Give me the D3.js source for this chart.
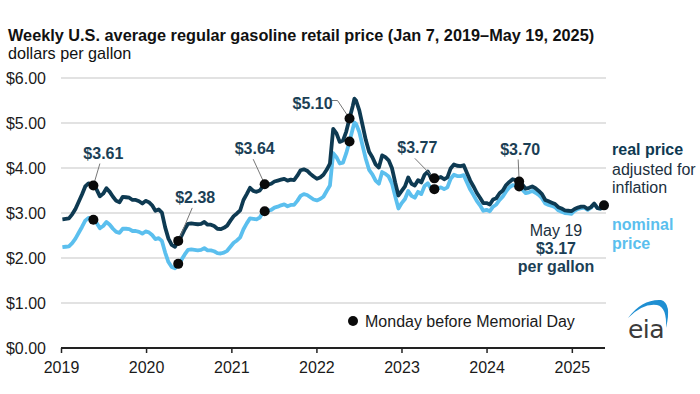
<!DOCTYPE html>
<html><head><meta charset="utf-8">
<script src="https://cdn.jsdelivr.net/npm/d3@7"></script>
<style>body{margin:0;background:#fff}svg{display:block;font-family:"Liberation Sans",Arial,sans-serif}</style>
</head><body><svg id="c" width="700" height="394"></svg>
<script>
const dates = ["2019-01-07","2019-01-21","2019-02-04","2019-02-18","2019-03-04","2019-03-18","2019-04-01","2019-04-15","2019-04-29","2019-05-13","2019-05-20","2019-06-03","2019-06-17","2019-07-01","2019-07-15","2019-07-29","2019-08-12","2019-08-26","2019-09-09","2019-09-23","2019-10-07","2019-10-21","2019-11-04","2019-11-18","2019-12-02","2019-12-16","2019-12-30",
"2020-01-13","2020-01-27","2020-02-10","2020-02-24","2020-03-09","2020-03-23","2020-04-06","2020-04-20","2020-05-04","2020-05-18","2020-06-01","2020-06-15","2020-06-29","2020-07-13","2020-07-27","2020-08-10","2020-08-24","2020-09-07","2020-09-21","2020-10-05","2020-10-19","2020-11-02","2020-11-16","2020-11-30","2020-12-14","2020-12-28",
"2021-01-11","2021-01-25","2021-02-08","2021-02-22","2021-03-08","2021-03-22","2021-04-05","2021-04-19","2021-05-03","2021-05-10","2021-05-24","2021-06-07","2021-06-21","2021-07-05","2021-07-19","2021-08-02","2021-08-16","2021-08-30","2021-09-13","2021-09-27","2021-10-11","2021-10-25","2021-11-08","2021-11-22","2021-12-06","2021-12-20",
"2022-01-03","2022-01-17","2022-01-31","2022-02-14","2022-02-28","2022-03-14","2022-03-28","2022-04-11","2022-04-25","2022-05-09","2022-05-23","2022-06-06","2022-06-13","2022-06-20","2022-07-04","2022-07-18","2022-08-01","2022-08-15","2022-08-29","2022-09-12","2022-09-26","2022-10-10","2022-10-24","2022-11-07","2022-11-21","2022-12-05","2022-12-19",
"2023-01-02","2023-01-16","2023-01-30","2023-02-13","2023-02-27","2023-03-13","2023-03-27","2023-04-10","2023-04-24","2023-05-08","2023-05-22","2023-06-05","2023-06-19","2023-07-03","2023-07-17","2023-07-31","2023-08-14","2023-08-28","2023-09-11","2023-09-25","2023-10-09","2023-10-23","2023-11-06","2023-11-20","2023-12-04","2023-12-18",
"2024-01-01","2024-01-15","2024-01-29","2024-02-12","2024-02-26","2024-03-11","2024-03-25","2024-04-08","2024-04-22","2024-05-06","2024-05-20","2024-06-03","2024-06-17","2024-07-01","2024-07-15","2024-07-29","2024-08-12","2024-08-26","2024-09-09","2024-09-23","2024-10-07","2024-10-21","2024-11-04","2024-11-18","2024-12-02","2024-12-16","2024-12-30",
"2025-01-13","2025-01-27","2025-02-10","2025-02-24","2025-03-10","2025-03-24","2025-04-07","2025-04-21","2025-05-05","2025-05-19"];
const nominal = [2.24,2.25,2.26,2.33,2.43,2.56,2.69,2.83,2.89,2.87,2.85,2.78,2.66,2.71,2.80,2.74,2.65,2.58,2.56,2.65,2.65,2.64,2.60,2.60,2.58,2.54,2.59,
2.57,2.51,2.42,2.44,2.38,2.12,1.91,1.80,1.77,1.87,1.96,2.08,2.18,2.19,2.18,2.17,2.18,2.22,2.17,2.17,2.15,2.11,2.10,2.12,2.16,2.25,
2.34,2.39,2.46,2.64,2.77,2.88,2.87,2.86,2.90,2.96,3.04,3.05,3.07,3.12,3.14,3.17,3.19,3.15,3.18,3.18,3.27,3.38,3.42,3.40,3.35,3.30,
3.28,3.31,3.36,3.49,3.61,4.33,4.24,4.10,4.12,4.33,4.59,4.87,5.01,4.98,4.80,4.50,4.20,3.96,3.86,3.72,3.65,3.91,3.87,3.81,3.66,3.37,3.10,
3.22,3.31,3.49,3.38,3.34,3.47,3.42,3.60,3.66,3.53,3.53,3.54,3.57,3.53,3.57,3.76,3.85,3.82,3.82,3.84,3.68,3.52,3.40,3.27,3.17,3.05,
3.07,3.04,3.14,3.19,3.29,3.37,3.48,3.57,3.62,3.61,3.59,3.52,3.44,3.46,3.49,3.45,3.40,3.33,3.21,3.18,3.16,3.13,3.06,3.03,3.00,2.99,2.98,
3.05,3.09,3.11,3.12,3.07,3.12,3.20,3.11,3.10,3.17];
const real = [2.86,2.87,2.88,2.97,3.09,3.25,3.41,3.59,3.66,3.64,3.61,3.52,3.37,3.43,3.55,3.47,3.36,3.27,3.24,3.36,3.35,3.34,3.29,3.29,3.26,3.21,3.27,
3.24,3.17,3.05,3.08,3.01,2.68,2.43,2.29,2.25,2.38,2.49,2.64,2.76,2.77,2.76,2.75,2.76,2.80,2.74,2.74,2.71,2.65,2.64,2.67,2.72,2.83,
2.93,2.99,3.06,3.29,3.42,3.56,3.49,3.47,3.50,3.55,3.64,3.63,3.65,3.70,3.72,3.74,3.76,3.72,3.74,3.73,3.83,3.95,3.97,3.94,3.87,3.81,
3.76,3.79,3.85,3.96,4.10,4.87,4.77,4.58,4.61,4.81,5.10,5.38,5.54,5.50,5.28,4.95,4.62,4.36,4.24,4.08,4.01,4.28,4.24,4.17,4.00,3.68,3.39,
3.49,3.59,3.79,3.65,3.61,3.73,3.68,3.85,3.92,3.77,3.77,3.77,3.80,3.75,3.79,3.99,4.08,4.05,4.04,4.06,3.89,3.72,3.59,3.45,3.34,3.22,
3.22,3.19,3.30,3.33,3.44,3.50,3.62,3.69,3.75,3.73,3.70,3.63,3.54,3.56,3.59,3.55,3.49,3.42,3.29,3.26,3.23,3.20,3.13,3.10,3.06,3.05,3.04,
3.09,3.12,3.14,3.14,3.09,3.13,3.21,3.11,3.10,3.17];
const memorialDates = ["2019-05-20","2020-05-18","2021-05-24","2022-05-23","2023-05-22","2024-05-20"];
const memorialReal = [3.61,2.38,3.64,5.10,3.77,3.70];
const memorialNominal = [2.85,1.87,3.04,4.59,3.53,3.59];
const latestDate = "2025-05-19";
const latestPrice = 3.17;
const yTicks = [0,1,2,3,4,5,6];
const xTickYears = [2019,2020,2021,2022,2023,2024,2025];

// label layout (pixel offsets relative to dot)
const labelLayout = [
  {dx:10, dy:-27, lx:6.5, ly:-22},
  {dx:17, dy:-38, lx:14, ly:-33},
  {dx:-10, dy:-30, lx:-11.5, ly:-25},
  {dx:-37, dy:-10, lx:-12, ly:-18, elbow:true},
  {dx:-17, dy:-25, lx:-19.5, ly:-20},
  {dx:1, dy:-27, lx:-1, ly:-22}
];

const parse = d3.timeParse("%Y-%m-%d");
const svg = d3.select("#c");
const realColor = "#0e3a52", nomColor = "#5bbfee", textDark = "#1a1a1a";

const x = d3.scaleTime().domain([parse("2019-01-01"), parse("2025-05-19")]).range([61, 604]);
const y = d3.scaleLinear().domain([0, 6]).range([348, 78]);

// title
svg.append("text").attr("x", 8).attr("y", 41).attr("font-size", 16.3).attr("font-weight", "bold").attr("fill", "#111")
  .text("Weekly U.S. average regular gasoline retail price (Jan 7, 2019\u2013May 19, 2025)");
svg.append("text").attr("x", 8).attr("y", 59).attr("font-size", 16.2).attr("fill", "#111").text("dollars per gallon");

// gridlines + y labels
const gy = svg.append("g");
gy.selectAll("line").data(yTicks.filter(d => d > 0)).join("line")
  .attr("x1", 61).attr("x2", 606).attr("y1", d => y(d)).attr("y2", d => y(d))
  .attr("stroke", "#d9d9d9").attr("stroke-width", 1.5);
gy.selectAll("text").data(yTicks).join("text")
  .attr("x", 46).attr("y", d => y(d)).attr("dy", "0.36em").attr("text-anchor", "end")
  .attr("font-size", 16).attr("fill", textDark).text(d => "$" + d.toFixed(2));

// x axis
const xAxis = d3.axisBottom(x).tickValues(xTickYears.map(yr => new Date(yr, 0, 1)))
  .tickFormat(d3.timeFormat("%Y")).tickSize(5).tickSizeOuter(0);
const gx = svg.append("g").attr("transform", `translate(0,${y(0)})`).call(xAxis);
gx.select(".domain").attr("stroke", "#222").attr("stroke-width", 2).attr("d", `M61,0H605`);
gx.selectAll(".tick line").attr("stroke", "#222").attr("stroke-width", 1.5);
gx.selectAll(".tick text").attr("font-size", 16).attr("fill", textDark).attr("y", 14).attr("dy", "0.71em")
  .attr("font-family", '"Liberation Sans",Arial,sans-serif');

// lines
const nomData = dates.map((d, i) => ({date: parse(d), v: nominal[i]}));
const realData = dates.map((d, i) => ({date: parse(d), v: real[i]}));
const line = d3.line().x(d => x(d.date)).y(d => y(d.v)).curve(d3.curveLinear);
svg.append("path").datum(nomData).attr("d", line).attr("fill", "none").attr("stroke", nomColor)
  .attr("stroke-width", 3.8).attr("stroke-linejoin", "round");
svg.append("path").datum(realData).attr("d", line).attr("fill", "none").attr("stroke", realColor)
  .attr("stroke-width", 3.8).attr("stroke-linejoin", "round");

// leaders + labels
memorialDates.forEach((d, i) => {
  const cx = x(parse(d)), cy = y(memorialReal[i]);
  const L = labelLayout[i];
  if (L.elbow) {
    svg.append("path").attr("d", `M${cx + L.lx - 6},${cy + L.ly}H${cx + L.lx}L${cx},${cy}`)
      .attr("fill", "none").attr("stroke", "#777").attr("stroke-width", 1);
  } else {
    svg.append("line").attr("x1", cx + L.lx).attr("y1", cy + L.ly).attr("x2", cx).attr("y2", cy)
      .attr("stroke", "#777").attr("stroke-width", 1);
  }
  svg.append("text").attr("x", cx + L.dx).attr("y", cy + L.dy).attr("text-anchor", "middle")
    .attr("font-size", 16).attr("font-weight", "bold").attr("fill", "#1b3f56")
    .text("$" + memorialReal[i].toFixed(2));
});

// dots
const dotData = [];
memorialDates.forEach((d, i) => { dotData.push({date: parse(d), v: memorialReal[i]}); dotData.push({date: parse(d), v: memorialNominal[i]}); });
dotData.push({date: parse(latestDate), v: latestPrice});
svg.selectAll("circle.dot").data(dotData).join("circle").attr("class", "dot")
  .attr("cx", d => x(d.date)).attr("cy", d => y(d.v)).attr("r", 5).attr("fill", "#0a0a0a");

// right labels
const rl = svg.append("g").attr("font-size", 16);
rl.append("text").attr("x", 612).attr("y", 155).attr("font-weight", "bold").attr("fill", realColor).text("real price");
rl.append("text").attr("x", 612).attr("y", 175).attr("fill", "#1b3040").text("adjusted for");
rl.append("text").attr("x", 612).attr("y", 193).attr("fill", "#1b3040").text("inflation");
rl.append("text").attr("x", 612).attr("y", 230).attr("font-weight", "bold").attr("fill", nomColor).text("nominal");
rl.append("text").attr("x", 612).attr("y", 249).attr("font-weight", "bold").attr("fill", nomColor).text("price");

const ml = svg.append("g").attr("font-size", 16).attr("text-anchor", "middle").attr("fill", "#1b3040");
ml.append("text").attr("x", 556).attr("y", 236).text("May 19");
ml.append("text").attr("x", 556).attr("y", 254).attr("font-weight", "bold").attr("fill", "#1b3f56").text("$" + latestPrice.toFixed(2));
ml.append("text").attr("x", 556).attr("y", 272).attr("font-weight", "bold").attr("fill", "#1b3f56").text("per gallon");

// legend
svg.append("circle").attr("cx", 353).attr("cy", 321).attr("r", 5).attr("fill", "#0a0a0a");
svg.append("text").attr("x", 365).attr("y", 327).attr("font-size", 16).attr("fill", textDark).text("Monday before Memorial Day");

// eia logo
svg.append("path").attr("d", "M628,318 Q642,299 661,300 Q672,303 666,328 Q667,307 657,305 Q643,303 628,318 Z")
  .attr("fill", "#1f8fd2");
svg.append("text").attr("x", 646).attr("y", 338).attr("text-anchor", "middle").attr("font-size", 25)
  .attr("font-family", '"DejaVu Sans",sans-serif').attr("fill", "#3b3b3b").attr("letter-spacing", -0.5).text("eia");
</script></body></html>
